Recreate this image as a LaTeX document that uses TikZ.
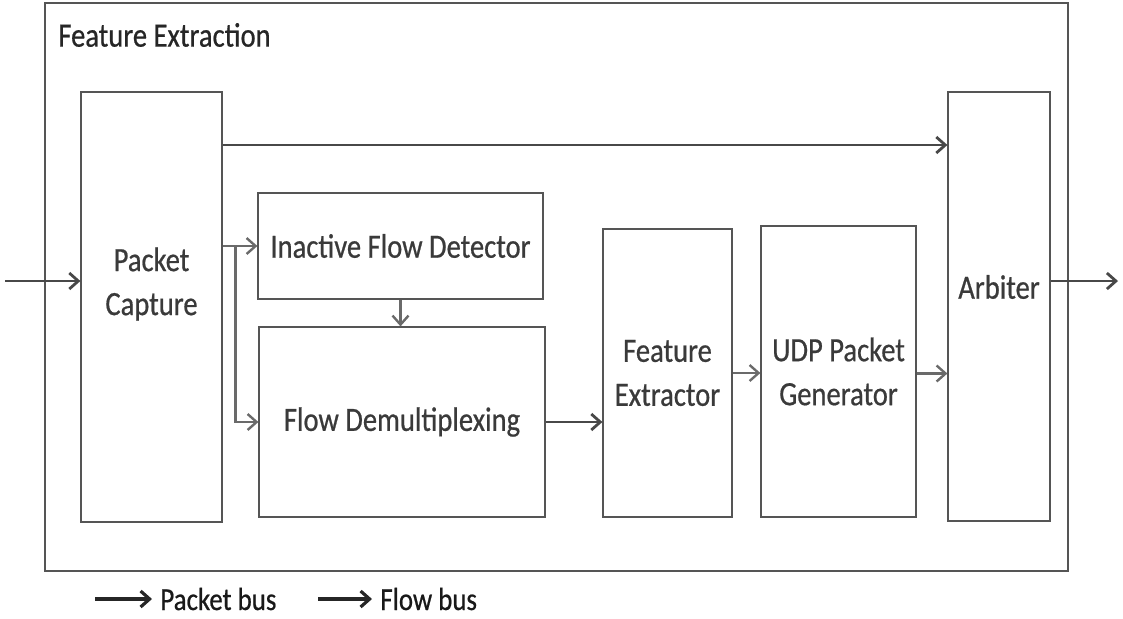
\documentclass[tikz,border=0pt]{standalone}
\usepackage{fontspec}
\setmainfont{Carlito}[FakeStretch=0.84, FakeBold=0.6]
\usepackage{xcolor}
\usetikzlibrary{arrows.meta}
\definecolor{boxgray}{HTML}{555555}
\definecolor{txtgray}{HTML}{3A3A3A}
\definecolor{pbcol}{HTML}{484848}
\definecolor{fbcol}{HTML}{6A6A6A}
\begin{document}
\begin{tikzpicture}[x=0.5pt, y=-0.5pt]
            \tikzstyle{every node}+=[inner sep=0pt, align=center, text=txtgray, font=\fontsize{17}{22}\selectfont]
            \tikzstyle{blk}=[draw=boxgray, line width=0.6pt, rectangle]
            \tikzstyle{pbus}=[draw=pbcol, line width=1.4pt, -{Straight Barb[length=4.5pt,width=8pt]}]
            \tikzstyle{fbus}=[draw=fbcol, line width=1.2pt, -{Straight Barb[length=4.5pt,width=8pt]}]
            \useasboundingbox (0,0) rectangle (1123,618);
            % blocks
            \node [blk, minimum width=511.5pt, minimum height=284pt] (fex) at (556.5,287) {};
            \node [anchor=west, text=black!85] (title) at (58,35) {Feature Extraction};
            \node [blk, minimum width=70.5pt, minimum height=215pt] (pc) at (151.5,307) {};
            \node (pctxt) at (151.5,284) {Packet\\Capture};
            \node [blk, minimum width=142.5pt, minimum height=53pt] (ifd) at (400.5,246) {Inactive Flow Detector};
            \node [blk, minimum width=143pt, minimum height=95pt] (fd) at (402,422) {Flow Demultiplexing};
            \node [blk, minimum width=64.5pt, minimum height=144pt] (fx) at (667.5,373) {Feature\\Extractor};
            \node [blk, minimum width=77.5pt, minimum height=145.5pt] (udp) at (838.5,371.5) {UDP Packet\\Generator};
            \node [blk, minimum width=51pt, minimum height=214.5pt] (arb) at (999,306.5) {};
            \node (arbtxt) at (999,287) {Arbiter};
            % buses
            \coordinate (in) at (5,281);
            \coordinate (out) at (1118,281);
            \draw [pbus] (in) -- (in -| pc.west);
            \draw [pbus] (pc.east |- 0,145) -- (arb.west |- 0,145);
            \draw [fbus] (pc.east |- ifd.west) -- (ifd.west);
            \path (pc.east |- ifd.west) ++(13,0) coordinate (split);
            \draw [fbus] (split) |- (fd.west);
            \draw [fbus] (ifd.south) -- (ifd.south |- fd.north);
            \draw [pbus] (fd.east) -- (fd.east -| fx.west);
            \draw [fbus] (fx.east) -- (fx.east -| udp.west);
            \draw [fbus] (udp.east) ++(0,2) coordinate (udpout) -- (udpout -| arb.west);
            \draw [pbus] (out -| arb.east) -- (out);
            % legend
            \node [anchor=west, text=black!90, font=\fontsize{16}{18}\selectfont] (pbtxt) at (160,599) {Packet bus};
            \node [anchor=west, text=black!90, font=\fontsize{16}{18}\selectfont] (fbtxt) at (380,599) {Flow bus};
            \coordinate (pbl) at (95,599);
            \coordinate (fbl) at (318,599);
            \draw [pbus, draw=black!85, line width=1.6pt, shorten >=4pt] (pbl) -- (pbtxt.west);
            \draw [fbus, draw=black!85, line width=1.6pt, shorten >=4pt] (fbl) -- (fbtxt.west);
        \end{tikzpicture}
\end{document}
